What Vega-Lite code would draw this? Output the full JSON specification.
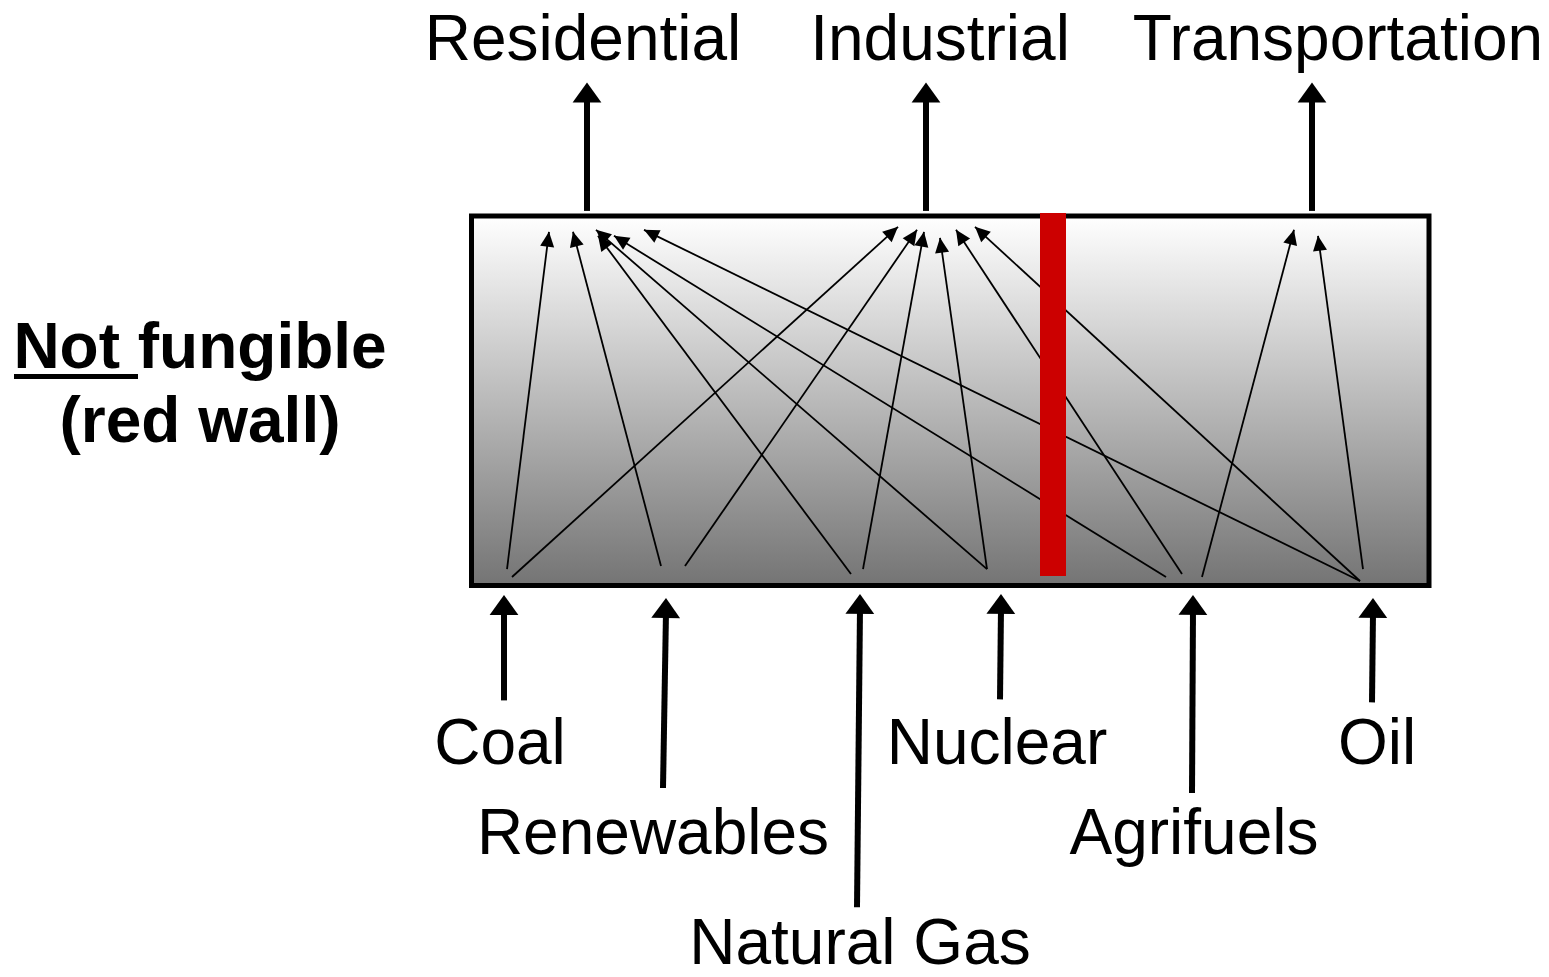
{
  "$schema": "https://vega.github.io/schema/vega-lite/v6.json",
  "width": 1549,
  "height": 977,
  "autosize": {"type": "fit", "contains": "padding"},
  "padding": 0,
  "background": "white",
  "config": {"view": {"stroke": null}},
  "datasets": {
    "box": [{"x1": 471.5, "x2": 1429, "y1": 217, "y2": 588.5}],
    "wall": [{"x1": 1040, "x2": 1066, "y1": 214, "y2": 579}],
    "thin": [
      {"from": "Coal", "to": "Residential", "x1": 507, "y1": 572, "x2": 549, "y2": 233},
      {"from": "Coal", "to": "Industrial", "x1": 512, "y1": 580, "x2": 898, "y2": 228},
      {"from": "Renewables", "to": "Residential", "x1": 661, "y1": 569, "x2": 573, "y2": 233},
      {"from": "Renewables", "to": "Industrial", "x1": 685, "y1": 569, "x2": 917, "y2": 231},
      {"from": "Natural Gas", "to": "Residential", "x1": 851, "y1": 577, "x2": 598, "y2": 237},
      {"from": "Natural Gas", "to": "Industrial", "x1": 863, "y1": 572, "x2": 924, "y2": 233},
      {"from": "Nuclear", "to": "Residential", "x1": 987, "y1": 572, "x2": 596, "y2": 231},
      {"from": "Nuclear", "to": "Industrial", "x1": 987, "y1": 572, "x2": 940, "y2": 239},
      {"from": "Agrifuels", "to": "Residential", "x1": 1166, "y1": 580, "x2": 614, "y2": 237},
      {"from": "Agrifuels", "to": "Industrial", "x1": 1182, "y1": 577, "x2": 956, "y2": 231},
      {"from": "Agrifuels", "to": "Transportation", "x1": 1202, "y1": 580, "x2": 1294, "y2": 231},
      {"from": "Oil", "to": "Residential", "x1": 1360, "y1": 584, "x2": 644, "y2": 231},
      {"from": "Oil", "to": "Industrial", "x1": 1360, "y1": 584, "x2": 975, "y2": 228},
      {"from": "Oil", "to": "Transportation", "x1": 1363, "y1": 572, "x2": 1318, "y2": 237}
    ],
    "big": [
      {"name": "Residential", "x1": 587, "y1": 212, "x2": 587, "y2": 83},
      {"name": "Industrial", "x1": 926, "y1": 212, "x2": 926, "y2": 83},
      {"name": "Transportation", "x1": 1312, "y1": 212, "x2": 1312, "y2": 83},
      {"name": "Coal", "x1": 504, "y1": 704, "x2": 504, "y2": 598},
      {"name": "Renewables", "x1": 663, "y1": 792, "x2": 666, "y2": 601},
      {"name": "Natural Gas", "x1": 857, "y1": 912, "x2": 860, "y2": 597},
      {"name": "Nuclear", "x1": 1000, "y1": 703, "x2": 1001, "y2": 597},
      {"name": "Agrifuels", "x1": 1192, "y1": 797, "x2": 1193, "y2": 598},
      {"name": "Oil", "x1": 1372, "y1": 706, "x2": 1373, "y2": 601}
    ],
    "labels": [
      {"text": "Residential", "x": 583, "y": 60},
      {"text": "Industrial", "x": 940, "y": 60},
      {"text": "Transportation", "x": 1338, "y": 60},
      {"text": "Coal", "x": 500, "y": 768},
      {"text": "Nuclear", "x": 997, "y": 768},
      {"text": "Oil", "x": 1377, "y": 768},
      {"text": "Renewables", "x": 653, "y": 858},
      {"text": "Agrifuels", "x": 1194, "y": 858},
      {"text": "Natural Gas", "x": 860, "y": 969}
    ],
    "side": [
      {"text": "Not fungible", "x": 200, "y": 370},
      {"text": "(red wall)", "x": 200, "y": 444}
    ],
    "underline": [{"x1": 14, "x2": 138, "y1": 376, "y2": 381}]
  },
  "layer": [
    {
      "data": {"name": "box"},
      "mark": {
        "type": "rect",
        "stroke": "black",
        "strokeWidth": 5,
        "fill": {
          "gradient": "linear", "x1": 0, "y1": 0, "x2": 0, "y2": 1,
          "stops": [
            {"offset": 0, "color": "#ffffff"},
            {"offset": 1, "color": "#747474"}
          ]
        }
      },
      "encoding": {
        "x": {"field": "x1", "type": "quantitative", "scale": {"domain": [0, 1549], "nice": false, "zero": false}, "axis": null},
        "x2": {"field": "x2"},
        "y": {"field": "y1", "type": "quantitative", "scale": {"domain": [0, 977], "reverse": true, "nice": false, "zero": false}, "axis": null},
        "y2": {"field": "y2"}
      }
    },
    {
      "data": {"name": "thin"},
      "mark": {"type": "rule", "color": "black", "strokeWidth": 1.8},
      "encoding": {
        "x": {"field": "x1", "type": "quantitative", "axis": null},
        "x2": {"field": "x2"},
        "y": {"field": "y1", "type": "quantitative", "axis": null},
        "y2": {"field": "y2"}
      }
    },
    {
      "data": {"name": "thin"},
      "transform": [
        {"calculate": "atan2(datum.x2 - datum.x1, datum.y1 - datum.y2) * 180 / PI", "as": "ang"}
      ],
      "mark": {"type": "point", "shape": "M0,0L0.47,1L-0.47,1Z", "size": 900, "filled": true, "color": "black", "opacity": 1, "strokeWidth": 0},
      "encoding": {
        "x": {"field": "x2", "type": "quantitative", "axis": null},
        "y": {"field": "y2", "type": "quantitative", "axis": null},
        "angle": {"field": "ang", "type": "quantitative", "scale": null}
      }
    },
    {
      "data": {"name": "wall"},
      "mark": {"type": "rect", "color": "#cc0000"},
      "encoding": {
        "x": {"field": "x1", "type": "quantitative", "axis": null},
        "x2": {"field": "x2"},
        "y": {"field": "y1", "type": "quantitative", "axis": null},
        "y2": {"field": "y2"}
      }
    },
    {
      "data": {"name": "big"},
      "mark": {"type": "rule", "color": "black", "strokeWidth": 6, "y2Offset": 14},
      "encoding": {
        "x": {"field": "x1", "type": "quantitative", "axis": null},
        "x2": {"field": "x2"},
        "y": {"field": "y1", "type": "quantitative", "axis": null},
        "y2": {"field": "y2"}
      }
    },
    {
      "data": {"name": "big"},
      "transform": [
        {"calculate": "atan2(datum.x2 - datum.x1, datum.y1 - datum.y2) * 180 / PI", "as": "ang"}
      ],
      "mark": {"type": "point", "shape": "M0,0L0.72,1L-0.72,1Z", "size": 1600, "filled": true, "color": "black", "opacity": 1, "strokeWidth": 0},
      "encoding": {
        "x": {"field": "x2", "type": "quantitative", "axis": null},
        "y": {"field": "y2", "type": "quantitative", "axis": null},
        "angle": {"field": "ang", "type": "quantitative", "scale": null}
      }
    },
    {
      "data": {"name": "labels"},
      "mark": {"type": "text", "font": "Liberation Sans", "fontSize": 64, "align": "center", "baseline": "alphabetic", "color": "black"},
      "encoding": {
        "x": {"field": "x", "type": "quantitative", "axis": null},
        "y": {"field": "y", "type": "quantitative", "axis": null},
        "text": {"field": "text"}
      }
    },
    {
      "data": {"name": "side"},
      "mark": {"type": "text", "font": "Liberation Sans", "fontSize": 64, "fontWeight": "bold", "align": "center", "baseline": "alphabetic", "color": "black"},
      "encoding": {
        "x": {"field": "x", "type": "quantitative", "axis": null},
        "y": {"field": "y", "type": "quantitative", "axis": null},
        "text": {"field": "text"}
      }
    },
    {
      "data": {"name": "underline"},
      "mark": {"type": "rect", "color": "black"},
      "encoding": {
        "x": {"field": "x1", "type": "quantitative", "axis": null},
        "x2": {"field": "x2"},
        "y": {"field": "y1", "type": "quantitative", "axis": null},
        "y2": {"field": "y2"}
      }
    }
  ]
}
